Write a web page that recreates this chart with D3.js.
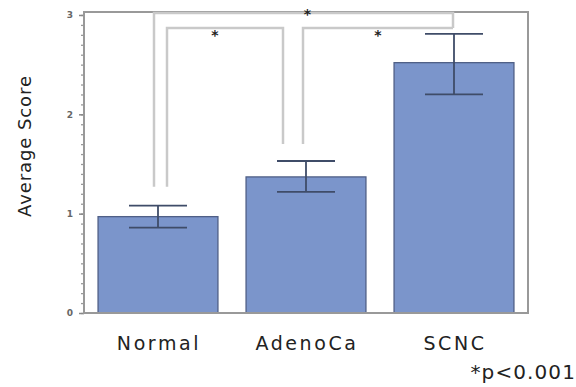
<!DOCTYPE html>
<html><head><meta charset="utf-8">
<script src="https://cdn.jsdelivr.net/npm/d3@7"></script>
<style>body{margin:0;background:#fff}svg{display:block}</style>
</head><body>
<svg id="c" width="576" height="387"></svg>
<script>
const categories = ["Normal", "AdenoCa", "SCNC"];
const means = [0.97, 1.37, 2.52];
const errLow = [0.86, 1.22, 2.20];
const errHigh = [1.08, 1.53, 2.81];
const yTicks = [0, 1, 2, 3];
const yLabel = "Average Score";
const footnote = "*p<0.001";
// significance comparisons: [from, to, bracket level value, from-end value, to-end value]
const sigFrom = ["Normal", "Normal", "AdenoCa"];
const sigTo = ["SCNC", "AdenoCa", "SCNC"];
const sigLevel = [3.02, 2.87, 2.87];
const sigFromEnd = [1.27, 1.27, 1.70];
const sigToEnd = [2.87, 1.70, 2.87];

const svg = d3.select("#c");
const L = 84, R = 528, T = 12, B = 313;
const x = d3.scaleBand().domain(categories).range([L, R]).paddingInner(0.19).paddingOuter(0.095);
const y = d3.scaleLinear().domain([0, 3.03]).range([B, T]);

// minor ticks
const minor = d3.range(0, 3.001, 0.1);
svg.append("g").attr("transform", `translate(${L},0)`)
  .call(d3.axisLeft(y).tickValues(minor).tickSize(3).tickFormat(""))
  .call(g => g.select(".domain").remove())
  .selectAll("line").attr("stroke", "#999").attr("stroke-width", 1.3);
// major ticks
const ax = svg.append("g").attr("transform", `translate(${L},0)`)
  .call(d3.axisLeft(y).tickValues(yTicks).tickSize(5).tickPadding(6).tickFormat(d3.format("d")));
ax.select(".domain").remove();
ax.selectAll("line").attr("stroke", "#888").attr("stroke-width", 1.5);
ax.selectAll("text").attr("font-family", "DejaVu Sans, sans-serif").attr("font-size", 9)
  .attr("font-weight", "bold").attr("fill", "#666");

// bars
svg.append("g").selectAll("rect").data(categories).join("rect")
  .attr("x", d => x(d)).attr("width", x.bandwidth())
  .attr("y", (d, i) => y(means[i])).attr("height", (d, i) => y(0) - y(means[i]))
  .attr("fill", "#7b95cb").attr("stroke", "#4f5f86").attr("stroke-width", 1.3);

// error bars
const cap = 29;
const eg = svg.append("g").attr("stroke", "#3f4c68").attr("stroke-width", 1.8);
categories.forEach((c, i) => {
  const cx = x(c) + x.bandwidth() / 2;
  eg.append("line").attr("x1", cx).attr("x2", cx).attr("y1", y(errLow[i])).attr("y2", y(errHigh[i]));
  eg.append("line").attr("x1", cx - cap).attr("x2", cx + cap).attr("y1", y(errLow[i])).attr("y2", y(errLow[i]));
  eg.append("line").attr("x1", cx - cap).attr("x2", cx + cap).attr("y1", y(errHigh[i])).attr("y2", y(errHigh[i]));
});

// frame
svg.append("rect").attr("x", L).attr("y", T).attr("width", R - L).attr("height", B - T)
  .attr("fill", "none").attr("stroke", "#999").attr("stroke-width", 2);

// significance brackets
const fromOff = [-4, 9, -3];
const toOff = [-1, -23, -1];
const starOff = [4, -10, 0];
const starDy = [6, 12, 12];
const bg = svg.append("g").attr("fill", "none").attr("stroke", "#c9c9c9").attr("stroke-width", 2.5);
sigFrom.forEach((f, i) => {
  const x1 = x(f) + x.bandwidth() / 2 + fromOff[i];
  const x2 = x(sigTo[i]) + x.bandwidth() / 2 + toOff[i];
  const yl = y(sigLevel[i]);
  bg.append("path").attr("d", `M${x1},${y(sigFromEnd[i])}V${yl}H${x2}V${y(sigToEnd[i])}`);
  svg.append("text").attr("x", (x1 + x2) / 2 + starOff[i]).attr("y", yl + starDy[i])
    .attr("text-anchor", "middle").attr("font-family", "DejaVu Sans, sans-serif")
    .attr("font-size", 14).attr("font-weight", "bold").attr("fill", "#222").text("*");
});

// category labels
svg.append("g").selectAll("text").data(categories).join("text")
  .attr("x", d => x(d) + x.bandwidth() / 2 + 1).attr("y", 350)
  .attr("text-anchor", "middle").attr("font-family", "DejaVu Sans, sans-serif")
  .attr("font-size", 19).attr("letter-spacing", 2.6).attr("fill", "#222").text(d => d);

// y label
svg.append("text").attr("transform", "translate(31,146) rotate(-90)")
  .attr("text-anchor", "middle").attr("font-family", "DejaVu Sans, sans-serif")
  .attr("font-size", 18).attr("letter-spacing", 0.9).attr("fill", "#222").text(yLabel);

// footnote
svg.append("text").attr("x", 576).attr("y", 379).attr("text-anchor", "end")
  .attr("font-family", "DejaVu Sans, sans-serif").attr("font-size", 20).attr("letter-spacing", 1.1)
  .attr("fill", "#222").text(footnote);
</script>
</body></html>
